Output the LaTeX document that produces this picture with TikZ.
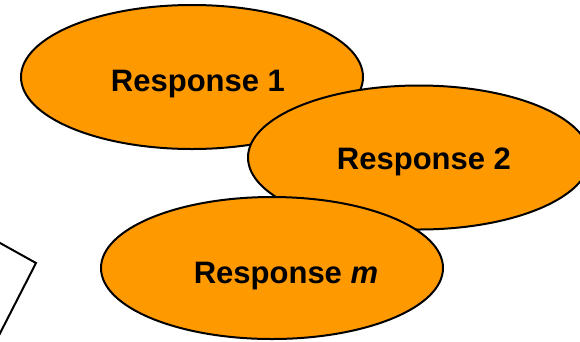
\documentclass[tikz,border=0pt]{standalone}
\usepackage{fontspec}
\setmainfont{Liberation Sans}
\usetikzlibrary{shapes.geometric}
\definecolor{resporange}{RGB}{255,153,0}
\begin{document}
\begin{tikzpicture}[x=1pt,y=-1pt,
  respell/.style={ellipse,draw=black,line width=2pt,fill=resporange,
    minimum width=342pt,minimum height=144pt,inner sep=0pt},
  resptext/.style={font=\fontsize{31}{37}\selectfont\bfseries,inner sep=0pt}]
\useasboundingbox (0,0) rectangle (580,341);
\clip (0,0) rectangle (580,341);
% partial box at the left edge
\coordinate (p1) at (-12,236.3);
\coordinate (p2) at (36,263);
\coordinate (p3) at (-6,345);
\draw[line width=2pt,line join=miter] (p1) -- (p2) -- (p3);
% ellipses
\node[respell] (e1) at (192,77) {};
\node[resptext] (t1) at (198,84) {Response 1};
\node[respell] (e2) at (419,157.5) {};
\node[resptext] (t2) at (424,162) {Response 2};
\node[respell,minimum height=142pt] (e3) at (272,268) {};
\node[resptext] (t3) at (286,276) {Response \textit{m}};
\end{tikzpicture}
\end{document}
